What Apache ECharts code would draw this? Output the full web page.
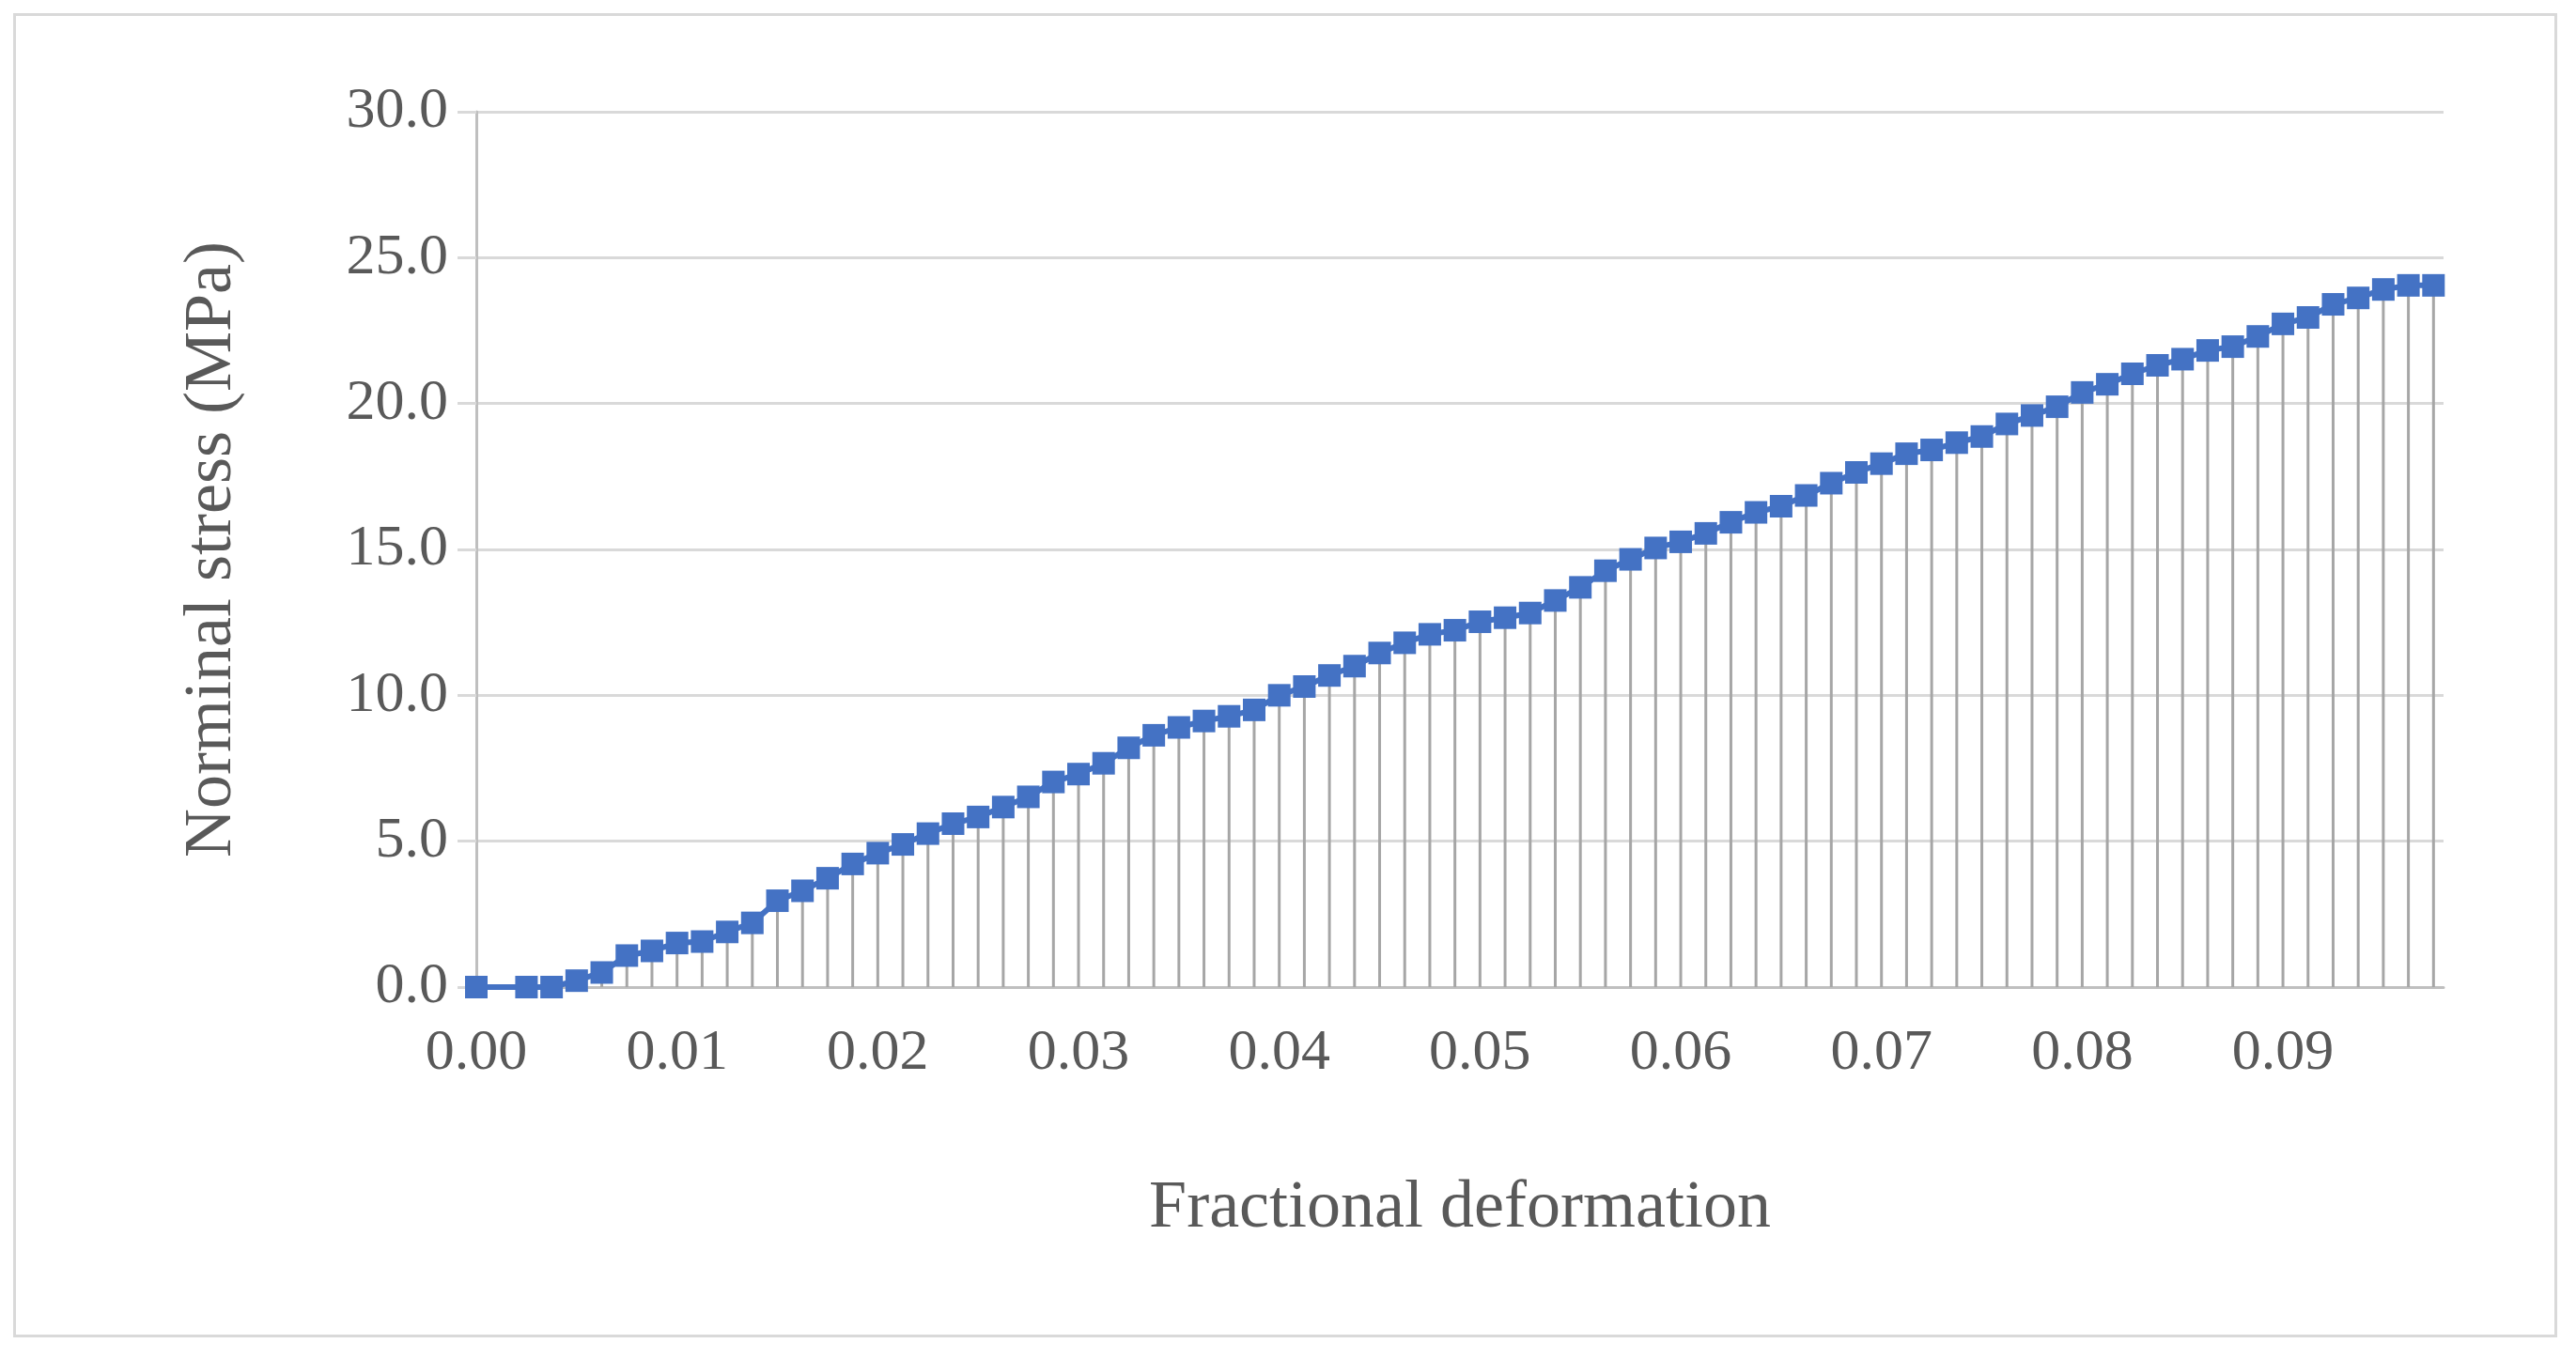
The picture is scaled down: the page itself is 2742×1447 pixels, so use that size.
<!DOCTYPE html>
<html>
<head>
<meta charset="utf-8">
<script src="https://cdn.jsdelivr.net/npm/echarts@6/dist/echarts.min.js"></script>
<style>
  html, body { margin: 0; padding: 0; background: #fff; }
  #frame { position: absolute; left: 14px; top: 14px; width: 2708px; height: 1410px; border: 3px solid #d9d9d9; box-sizing: border-box; }
  #main { width: 2742px; height: 1447px; }
</style>
</head>
<body>
<div id="frame"></div>
<div id="main"></div>
<script>
// strain step between readings
const step = 0.00125
// stress readings (MPa), null = no reading shown
const stress = [
  0, null, 0, 0, 0.22, 0.5, 1.08, 1.24, 1.51, 1.56,
  1.89, 2.2, 2.96, 3.3, 3.73, 4.22, 4.59, 4.89, 5.26, 5.6,
  5.83, 6.17, 6.52, 7.03, 7.3, 7.67, 8.2, 8.63, 8.9, 9.12,
  9.28, 9.5, 10.0, 10.3, 10.68, 11.0, 11.45, 11.8, 12.09, 12.23,
  12.52, 12.66, 12.82, 13.25, 13.7, 14.27, 14.66, 15.05, 15.26, 15.55,
  15.93, 16.27, 16.48, 16.85, 17.27, 17.64, 17.94, 18.28, 18.41, 18.66,
  18.87, 19.3, 19.59, 19.89, 20.38, 20.66, 21.02, 21.31, 21.52, 21.82,
  21.95, 22.3, 22.73, 22.95, 23.4, 23.62, 23.91, 24.05, 24.05
]
const xTitle = 'Fractional deformation'
const yTitle = 'Norminal stress (MPa)'

const points = stress.map((v, i) => [+(i * step).toFixed(5), v])
const drops = points.filter(p => p[1] !== null)

const font = 'Liberation Serif'
const textColor = '#595959'

let myChart = echarts.init(document.getElementById('main'))
let options = {
  animation: false,
  grid: { left: 507, right: 141, top: 119, bottom: 396 },
  xAxis: {
    type: 'value',
    min: 0,
    max: 0.098,
    interval: 0.01,
    name: xTitle,
    nameLocation: 'middle',
    nameGap: 200,
    nameTextStyle: { fontFamily: font, fontSize: 72, color: textColor },
    axisLine: { lineStyle: { color: '#bfbfbf', width: 3 } },
    axisTick: { show: false },
    splitLine: { show: false },
    axisLabel: {
      showMaxLabel: false,
      margin: 40,
      fontFamily: font, fontSize: 62, color: textColor,
      formatter: v => v.toFixed(2)
    }
  },
  yAxis: {
    type: 'value',
    min: 0,
    max: 30,
    interval: 5,
    name: yTitle,
    nameLocation: 'middle',
    nameGap: 245,
    nameTextStyle: { fontFamily: font, fontSize: 72, color: textColor },
    axisLine: { show: true, lineStyle: { color: '#bfbfbf', width: 3 } },
    axisTick: { show: true, length: 20, inside: false, lineStyle: { color: '#d9d9d9', width: 3 } },
    splitLine: { lineStyle: { color: '#d9d9d9', width: 3 } },
    axisLabel: {
      margin: 30,
      fontFamily: font, fontSize: 62, color: textColor,
      formatter: v => v.toFixed(1)
    }
  },
  series: [
    {
      type: 'bar',
      data: drops,
      barWidth: 3,
      itemStyle: { color: '#a6a6a6' },
      z: 1
    },
    {
      type: 'line',
      data: points,
      connectNulls: true,
      symbol: 'rect',
      symbolSize: 24,
      lineStyle: { color: '#4472c4', width: 6 },
      itemStyle: { color: '#4472c4' },
      z: 3
    }
  ]
}
myChart.setOption(options)
</script>
</body>
</html>
